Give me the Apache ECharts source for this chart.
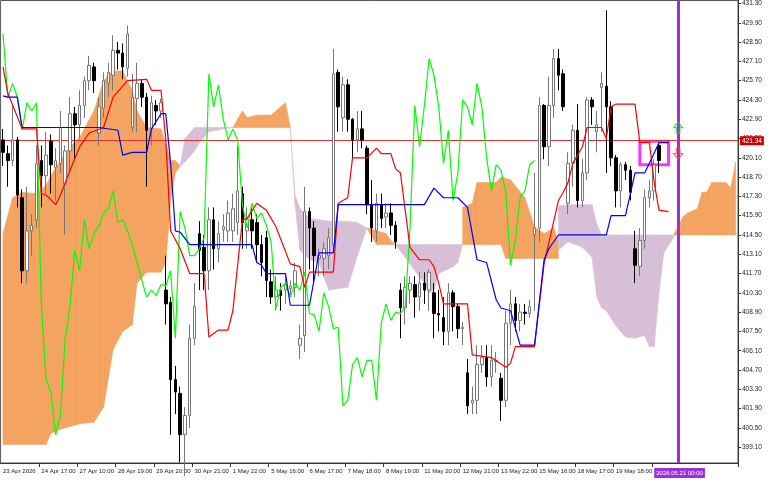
<!DOCTYPE html>
<html><head><meta charset="utf-8">
<script src="https://cdn.jsdelivr.net/npm/echarts@6/dist/echarts.min.js"></script>
<style>html,body{margin:0;padding:0;background:#fff}#c{width:768px;height:480px}</style>
</head><body><div id="c"></div>
<script>
// candles: [open, close, low, high]
const candles = [
[421.4,420.5,419.5,422.2],[420.4,419.9,418.0,421.0],[419.9,421.4,419.5,424.0],[421.4,417.4,416.5,421.6],
[417.2,411.9,411.0,417.8],[411.9,414.8,411.0,418.0],[414.8,415.2,413.0,416.0],[415.6,419.7,415.0,421.0],
[419.9,418.8,416.5,421.0],[418.8,420.3,417.5,422.0],[421.3,419.6,417.5,421.8],[419.4,419.9,417.0,420.8],
[419.7,422.3,419.0,423.5],[418.2,420.6,414.5,421.0],[420.6,423.3,419.0,424.5],[423.3,422.5,420.0,423.8],
[422.5,423.9,421.5,425.0],[423.9,425.7,423.0,426.0],[425.7,426.8,425.0,427.5],[426.7,425.7,424.8,427.0],
[421.9,423.8,421.0,424.5],[423.7,425.7,423.0,426.3],[425.5,426.3,424.5,427.0],[426.1,427.9,425.0,429.0],
[427.9,427.7,426.5,428.5],[427.7,426.7,425.8,428.4],[426.6,429.1,426.0,429.7],[422.3,424.5,422.0,426.2],
[424.4,425.5,422.0,427.0],[425.5,424.5,423.8,425.8],[424.5,422.1,418.0,424.8],[422.2,424.1,421.0,424.6],
[423.9,423.5,422.5,424.3],[423.5,424.1,423.0,424.4],[410.5,409.5,408.0,413.0],[409.6,404.0,400.0,410.0],
[404.0,403.1,401.5,405.0],[403.0,400.0,398.0,403.5],[400.0,401.4,397.0,402.0],[401.4,407.0,400.5,408.0],
[407.0,409.3,406.5,411.0],
[414.6,413.4,410.5,415.5],[413.6,411.9,410.5,414.5],[411.9,415.6,410.5,416.5],[415.6,413.5,412.0,416.5],
[413.5,414.6,412.5,415.5],[414.9,415.1,414.0,416.0],[414.8,416.1,414.0,417.0],[414.8,416.4,414.0,417.5],
[415.4,417.7,414.5,421.0],[417.5,415.4,413.5,418.0],[414.8,415.6,413.5,416.5],[415.6,414.8,413.5,416.5],
[415.4,413.8,412.5,416.0],[413.8,412.5,411.5,414.5],[414.3,411.2,410.0,414.8],[411.1,410.0,409.5,412.0],
[410.0,410.5,409.0,411.5],[410.5,410.1,409.0,411.0],[410.5,410.9,409.5,411.5],[410.6,410.8,410.0,411.2],
[410.7,411.9,410.0,412.5],[406.5,407.0,405.5,408.0],[407.2,416.2,406.0,418.0],[416.2,415.0,412.0,416.5],
[415.0,413.0,411.0,415.5],[412.8,413.0,411.5,413.5],[412.8,413.5,411.5,414.0],[413.0,414.3,412.0,415.0],
[413.8,426.2,413.5,428.0],[426.3,423.8,422.0,426.5],[423.0,425.4,422.0,426.0],[425.4,422.9,422.0,425.8],
[422.9,421.4,420.0,423.0],[421.4,422.2,420.5,423.5],[422.2,421.4,420.8,423.5],[420.8,416.7,416.0,421.0],
[416.7,415.0,414.0,418.5],[414.8,416.8,414.0,417.5],[416.7,415.7,415.0,417.5],
[415.8,416.1,415.0,416.8],[416.1,415.2,414.5,416.8],[415.2,414.0,413.5,415.5],[410.5,409.2,407.0,411.0],
[409.2,410.7,408.0,411.5],[410.5,411.0,409.5,411.5],[410.9,410.0,408.5,411.5],[410.0,411.0,409.0,411.8],
[411.0,410.5,409.5,411.8],[410.5,411.8,409.0,412.0],[410.3,408.8,407.0,411.0],[408.8,408.7,407.5,410.5],
[408.5,407.5,406.5,410.0],[407.5,410.3,406.5,411.0],[410.3,409.3,407.5,410.5],[409.3,407.7,407.0,409.5],
[407.7,407.8,406.5,408.2],[404.5,402.1,401.5,405.5],[402.3,402.5,401.5,403.5],[402.5,405.1,401.5,406.5],
[405.1,405.6,404.5,406.5],[405.6,404.2,403.5,406.5],[404.2,405.4,403.5,406.5],[405.3,405.4,404.5,406.0],
[404.1,402.5,401.0,404.5],[402.5,408.1,402.0,409.0],[408.1,409.5,406.5,410.5],[409.5,408.3,407.5,410.0],
[408.3,408.9,407.5,409.5],[408.9,408.8,408.0,409.5],[408.8,409.3,408.5,409.8],[414.5,415.0,409.0,419.0],
[415.0,423.9,414.0,424.5],[423.9,420.9,420.0,424.0],[420.9,423.9,419.5,426.0],[423.9,427.3,423.0,428.0],
[427.3,426.1,425.0,428.0],[426.2,423.8,423.5,426.5],[416.8,419.7,416.0,420.5],[419.7,422.1,418.0,422.5],
[422.1,417.0,416.5,424.0],[417.0,419.0,416.5,420.0],[419.0,424.3,418.5,424.5],[424.3,423.8,422.5,424.5],
[422.0,422.5,420.5,423.5],[425.2,425.5,422.0,426.3],[425.3,423.8,419.0,430.8],[423.8,420.1,419.5,424.2],
[420.1,417.7,416.5,420.3],[417.7,419.6,416.5,419.8],[419.6,419.2,418.5,419.8],[419.2,417.6,417.0,419.5],
[413.5,412.3,411.0,414.8],[412.2,414.1,411.5,415.0],[414.1,417.2,413.5,417.8],[417.2,417.7,416.5,418.5],
[417.7,419.6,417.0,420.0],[421.0,419.9,419.0,421.2]
];
// tenkan (red) and kijun (blue): [barIndex, value]
const tenkan = [[0,426.7],[1,424.8],[4,422.2],[7,422.2],[8,417.5],[9,417.4],[11,416.7],[12,417.4],[14,419.2],[16,420.9],[18,421.9],[21,422.3],[23,424.5],[26,425.7],[30,425.8],[31,425.0],[33,425.0],[34,421.4],[35,414.8],[37,413.5],[39,411.7],[42,411.7],[43,407.1],[45,407.6],[47,407.6],[48,409.0],[50,415.6],[51,415.7],[53,416.8],[55,416.3],[57,415.1],[60,412.4],[62,412.2],[63,410.7],[64,411.8],[69,411.8],[70,416.8],[72,417.2],[73,420.1],[76,420.1],[78,420.8],[79,420.4],[81,420.4],[82,419.3],[83,419.0],[84,416.3],[85,413.6],[87,412.7],[89,412.7],[90,412.2],[91,411.0],[92,409.5],[97,409.5],[98,405.8],[102,405.6],[105,404.9],[106,405.2],[107,406.4],[111,406.4],[113,412.4],[116,417.0],[117,417.6],[118,418.3],[119,419.7],[121,420.9],[122,422.3],[125,422.3],[126,421.5],[127,423.8],[128,424.0],[132,424.0],[133,421.2],[135,421.2],[136,418.3],[137,416.3],[139,416.2]];
const kijun = [[0,424.6],[1,424.5],[3,424.5],[4,422.3],[20,422.3],[24,422.1],[25,420.3],[27,420.5],[30,420.5],[31,422.2],[33,423.3],[34,423.3],[35,419.7],[36,414.8],[37,414.7],[39,413.8],[52,413.8],[53,412.5],[54,412.3],[55,411.7],[59,411.7],[60,409.4],[64,409.4],[66,413.2],[69,413.2],[70,416.7],[88,416.7],[90,417.9],[92,417.2],[95,417.2],[97,416.5],[99,412.7],[101,412.5],[103,409.8],[104,409.2],[106,409.0],[108,406.5],[111,406.5],[113,412.7],[114,413.5],[116,414.5],[126,414.5],[127,415.9],[130,415.9],[132,419.0],[134,419.0],[135,419.7],[137,421.2],[139,421.2]];
const chikouShift = 26;
// cloud segments: [barIndex, upper, lower]
const cloudOrange1 = [[0,414.6,399.3],[2,417.2,399.3],[4,417.6,399.3],[7,417.5,399.3],[9,418.1,399.3],[10,418.8,400.1],[12,419.9,400.4],[14,420.9,400.6],[16,421.6,400.8],[19,423.5,400.9],[21,425.7,402.0],[23,426.4,406.2],[25,426.4,407.5],[27,425.0,408.0],[28,423.5,411.0],[30,422.3,411.8],[33,422.2,411.8],[34,421.1,412.5],[35,419.9,417.0],[36,419.9,419.0],[37,419.5,419.5]];
const cloudPurple1 = [[37,419.5,419.5],[38,421.5,419.8],[40,422.3,420.6],[41,422.3,421.2],[43,422.3,422.0],[46,422.3,422.2],[48,422.3,422.3]];
const cloudOrange2 = [[48,422.3,422.3],[50,423.5,422.3],[51,423.0,422.3],[53,423.2,422.3],[56,423.2,422.3],[59,424.1,422.3],[60,422.3,422.3]];
const cloudPurple2 = [[60,422.3,422.3],[61,417.4,416.7],[62,416.4,413.4],[64,415.7,412.7],[66,415.6,412.5],[68,415.5,410.5],[72,415.5,410.7],[74,415.4,413.0],[76,415.0,415.0]];
const cloudOrange3 = [[76,415.0,415.0],[78,414.8,413.8],[80,414.6,413.8],[81,414.1,413.8],[82,413.8,413.8]];
const cloudPurple3 = [[82,413.8,413.8],[85,413.8,412.4],[88,413.8,411.0],[89,413.8,410.3],[90,413.8,410.5],[91,413.8,411.7],[94,413.8,412.2],[95,413.8,412.5],[96,413.8,413.8]];
const cloudOrange4 = [[96,416.5,413.8],[98,416.8,413.8],[99,418.3,413.8],[103,418.3,413.8],[104,418.7,413.8],[105,418.6,412.8],[106,418.5,412.8],[109,417.2,412.8],[111,415.1,412.8],[113,414.6,412.8],[115,415.0,412.8],[116,414.1,412.8]];
const cloudPurple4 = [[116,416.6,413.4],[118,416.7,414.0],[121,416.7,413.6],[123,416.7,412.9],[124,415.3,410.0],[125,414.5,409.2],[126,414.5,409.0],[128,414.5,407.9],[130,414.5,407.1],[132,414.5,407.0],[134,414.5,407.2],[135,414.5,406.4],[136,414.5,406.4],[137,414.5,410.3],[138,414.5,413.2],[140,414.5,414.3]];
const cloudOrange5 = [[140,414.5,414.5],[141,415.1,414.5],[142,415.8,414.5],[143,416.1,414.5],[145,416.4,414.5],[146,417.6,414.5],[147,417.6,414.5],[148,418.3,414.5],[151,418.3,414.5],[152,417.9,414.5],[153,419.8,414.5]];
const timeLabels = ["23 Apr 2026","24 Apr 17:00","27 Apr 10:00","28 Apr 19:00","29 Apr 20:00","30 Apr 21:00","1 May 22:00","5 May 16:00","6 May 17:00","7 May 18:00","8 May 19:00","11 May 20:00","12 May 21:00","13 May 22:00","15 May 16:00","18 May 17:00","19 May 18:00","2026.05.21 00:00"];
const priceTicks = [];
for (let k = 0; k <= 23; k++) priceTicks.push(+(399.1 + 1.4 * k).toFixed(2));
const currentPrice = 421.34;
const currentBar = 141;
const boxBars = [133, 139], boxPrices = [421.3, 419.6];

const N = 154, STEP = 8;
const cats = [];
for (let i = 0; i < N; i++) cats.push(i % STEP === 0 && timeLabels[i / STEP] ? timeLabels[i / STEP] : '');
const chikou = [];
for (let i = chikouShift; i < candles.length; i++) chikou.push([i - chikouShift, candles[i][1]]);

function cloud(seg, color) {
  return {
    type: 'custom', z: 1, silent: true, data: seg,
    renderItem: function (params, api) {
      const k = params.dataIndex;
      if (k >= seg.length - 1) return;
      const p = seg[k], q = seg[k + 1];
      const pts = [api.coord([p[0], p[1]]), api.coord([q[0], q[1]]), api.coord([q[0], q[2]]), api.coord([p[0], p[2]])];
      return { type: 'polygon', shape: { points: pts }, style: { fill: color, stroke: color, lineWidth: 0.6 } };
    }
  };
}
const ORANGE = '#F4A460', PURPLE = '#D8BFD8';
const chart = echarts.init(document.getElementById('c'));
const font = 'Liberation Sans';
chart.setOption({
  animation: false,
  backgroundColor: '#fff',
  grid: { left: 0, right: 30, top: 0, bottom: 17, show: true, borderColor: '#555', borderWidth: 1 },
  xAxis: {
    type: 'category', data: cats, boundaryGap: true,
    axisLine: { lineStyle: { color: '#333' } },
    axisTick: { show: true, interval: (i) => i % STEP === 0 && i > 0 && i <= 136, length: 4, lineStyle: { color: '#333' } },
    axisLabel: {
      interval: (i) => i % STEP === 0 && i <= 136, align: 'left', margin: 5, hideOverlap: false, showMinLabel: true,
      fontSize: 6, fontFamily: font, color: '#222',
      formatter: (v, i) => i === 136 ? '{p|' + v + '}' : v,
      rich: { p: { backgroundColor: '#9B30E0', color: '#fff', fontSize: 6, fontFamily: font, padding: [2, 2] } }
    },
    splitLine: { show: false }
  },
  yAxis: {
    type: 'value', position: 'right', min: 397.95, max: 431.52, scale: true,
    axisLine: { show: true, lineStyle: { color: '#333' } },
    axisTick: { show: true, customValues: priceTicks, length: 3, lineStyle: { color: '#333' } },
    axisLabel: { customValues: priceTicks, formatter: (v) => v.toFixed(2), fontSize: 6.5, fontFamily: font, color: '#222', margin: 4 },
    splitLine: { show: false }
  },
  series: [
    cloud(cloudOrange1, ORANGE), cloud(cloudPurple1, PURPLE), cloud(cloudOrange2, ORANGE), cloud(cloudPurple2, PURPLE),
    cloud(cloudOrange3, ORANGE), cloud(cloudPurple3, PURPLE), cloud(cloudOrange4, ORANGE), cloud(cloudPurple4, PURPLE),
    cloud(cloudOrange5, ORANGE),
    {
      type: 'candlestick', z: 3, data: candles, barWidth: 3,
      itemStyle: { color: '#fff', color0: '#000', borderColor: '#777', borderColor0: '#000', borderWidth: 1 },
      markLine: {
        silent: true, symbol: 'none', z: 2,
        data: [
          { yAxis: currentPrice, lineStyle: { color: '#E03030', width: 1, type: 'solid' },
            label: { show: true, position: 'end', formatter: currentPrice.toFixed(2), backgroundColor: '#D00000', color: '#fff', fontSize: 6.5, fontFamily: font, padding: [1, 2], distance: 2 } },
          { xAxis: currentBar, lineStyle: { color: '#9B30E0', width: 3, type: 'solid' }, label: { show: false } }
        ]
      },
      markArea: {
        silent: true,
        itemStyle: { color: 'rgba(0,0,0,0)', borderColor: '#FF33FF', borderWidth: 3 },
        data: [[{ xAxis: boxBars[0], yAxis: boxPrices[0] }, { xAxis: boxBars[1], yAxis: boxPrices[1] }]]
      }
    },
    { type: 'line', z: 4, data: chikou, showSymbol: false, lineStyle: { color: '#00FF00', width: 1.2 }, itemStyle: { color: '#00FF00' } },
    { type: 'line', z: 5, data: tenkan, showSymbol: false, lineStyle: { color: '#FF0000', width: 1.2 }, itemStyle: { color: '#FF0000' } },
    { type: 'line', z: 5, data: kijun, showSymbol: false, lineStyle: { color: '#0000FF', width: 1.2 }, itemStyle: { color: '#0000FF' } },
    { type: 'scatter', z: 6, data: [[currentBar, 422.3]], symbol: 'path://M5,0 L10,5 L7,5 L7,10 L3,10 L3,5 L0,5 Z', symbolSize: [9, 11],
      itemStyle: { color: 'rgba(0,0,0,0)', borderColor: '#33CC33', borderWidth: 1.2 } },
    { type: 'scatter', z: 6, data: [[currentBar, 420.4]], symbol: 'path://M5,10 L10,5 L7,5 L7,0 L3,0 L3,5 L0,5 Z', symbolSize: [9, 11],
      itemStyle: { color: 'rgba(0,0,0,0)', borderColor: '#FF4040', borderWidth: 1.2 } }
  ]
});
</script></body></html>
